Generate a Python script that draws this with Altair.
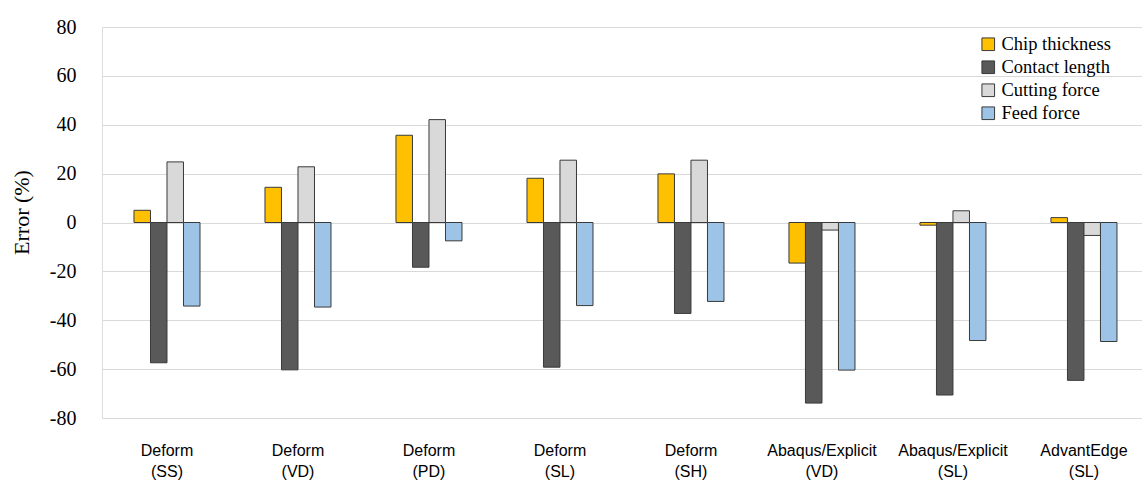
import altair as alt
import pandas as pd

# Simulation codes / configurations compared against experiment
configs = [
    "Deform\n(SS)", "Deform\n(VD)", "Deform\n(PD)", "Deform\n(SL)",
    "Deform\n(SH)", "Abaqus/Explicit\n(VD)", "Abaqus/Explicit\n(SL)",
    "AdvantEdge\n(SL)",
]
metrics = ["Chip thickness", "Contact length", "Cutting force", "Feed force"]
metric_colors = ["#FFC000", "#595959", "#D9D9D9", "#9DC3E6"]

# Prediction error (%) per configuration
chip_thickness = [5.0, 14.4, 35.7, 18.1, 19.9, -16.6, -1.1, 2.0]
contact_length = [-57.4, -60.3, -18.3, -59.2, -37.2, -73.9, -70.6, -64.6]
cutting_force = [24.8, 22.8, 42.1, 25.5, 25.5, -3.1, 4.8, -5.3]
feed_force = [-34.2, -34.6, -7.5, -34.0, -32.3, -60.4, -48.3, -48.7]

y_ticks = [-80, -60, -40, -20, 0, 20, 40, 60, 80]

series = [chip_thickness, contact_length, cutting_force, feed_force]
rows = []
for name, vals in zip(metrics, series):
    for cfg, v in zip(configs, vals):
        rows.append({"config": cfg, "metric": name, "error": v})
df = pd.DataFrame(rows)

serif = "Liberation Serif"
sans = "Liberation Sans"

bars = alt.Chart(df).mark_bar(stroke="#3a3a3a", strokeWidth=1).encode(
    x=alt.X(
        "config:N",
        sort=configs,
        title=None,
        scale=alt.Scale(paddingInner=0.496, paddingOuter=0.2176, align=0.561),
        axis=alt.Axis(
            orient="bottom",
            labelAngle=0,
            labelExpr="split(datum.value, '\\n')",
            labelFont=sans,
            labelFontSize=16,
            labelLineHeight=21,
            labelColor="#000000",
            labelPadding=24,
            labelBaseline="top",
            ticks=False,
            domain=False,
            grid=False,
        ),
    ),
    xOffset=alt.XOffset(
        "metric:N", sort=metrics, scale=alt.Scale(paddingInner=0, paddingOuter=0)
    ),
    y=alt.Y(
        "error:Q",
        title="Error (%)",
        scale=alt.Scale(domain=[-80, 80], nice=False, zero=True),
        axis=alt.Axis(
            values=y_ticks,
            labelExpr="toString(datum.value)",
            labelFont=serif,
            labelFontSize=20,
            labelColor="#000000",
            labelPadding=26,
            ticks=False,
            domain=False,
            gridColor="#D9D9D9",
            gridWidth=1.2,
            titleFont=serif,
            titleFontSize=22,
            titleFontWeight="normal",
            titleColor="#000000",
            titlePadding=16,
            titleY=185,
        ),
    ),
    color=alt.Color(
        "metric:N",
        sort=metrics,
        scale=alt.Scale(domain=metrics, range=metric_colors),
        legend=alt.Legend(
            title=None,
            orient="none",
            legendX=877,
            legendY=8,
            symbolType="square",
            symbolSize=160,
            symbolStrokeColor="#3a3a3a",
            symbolStrokeWidth=1,
            labelFont=serif,
            labelFontSize=18.5,
            labelColor="#000000",
            labelOffset=4,
            rowPadding=4,
            padding=0,
        ),
    ),
)

chart = bars.properties(
    width=1040,
    height=391,
    autosize=alt.AutoSizeParams(type="none"),
    padding={"left": 102, "top": 27, "right": 0, "bottom": 62},
).configure_view(stroke=None).configure(background="white")

chart.save("out.html", embed_options={"renderer": "svg", "actions": False})
